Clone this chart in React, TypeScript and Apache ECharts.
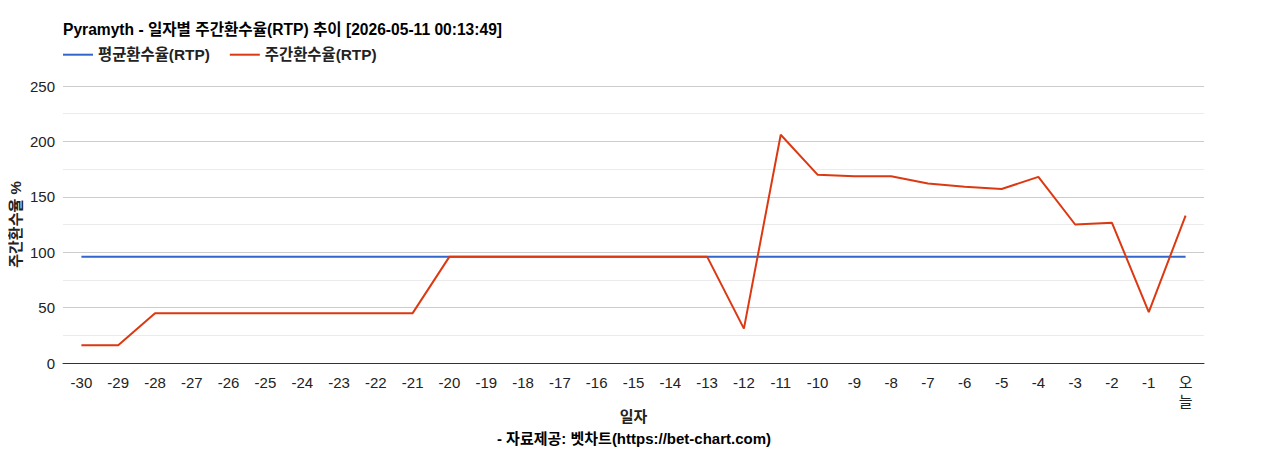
import React, { useEffect, useRef } from "react";
import * as echarts from "echarts";

const categories = [
  "-30", "-29", "-28", "-27", "-26", "-25", "-24", "-23", "-22", "-21",
  "-20", "-19", "-18", "-17", "-16", "-15", "-14", "-13", "-12", "-11",
  "-10", "-9", "-8", "-7", "-6", "-5", "-4", "-3", "-2", "-1", "오늘",
];
const averageRtp = [
  96, 96, 96, 96, 96, 96, 96, 96, 96, 96,
  96, 96, 96, 96, 96, 96, 96, 96, 96, 96,
  96, 96, 96, 96, 96, 96, 96, 96, 96, 96, 96,
];
const weeklyRtp = [
  16, 16, 45, 45, 45, 45, 45, 45, 45, 45,
  96, 96, 96, 96, 96, 96, 96, 96, 31, 206,
  170, 168.5, 168.5, 162, 159, 157, 168, 125, 126.5, 46, 133,
];
const yTicks = { min: 0, max: 250, interval: 50 };

const FONT = "Arial, 'Liberation Sans', 'Noto Sans CJK KR', sans-serif";

export default function App() {
  const ref = useRef<HTMLDivElement>(null);
  useEffect(() => {
    if (!ref.current) return;
    const chart = echarts.init(ref.current, null, { renderer: "svg" });
    chart.setOption({
      animation: false,
      textStyle: { fontFamily: FONT },
      title: [
        {
          text: "Pyramyth - 일자별 주간환수율(RTP) 추이 [2026-05-11 00:13:49]",
          left: 55,
          top: 14,
          padding: 0,
          textStyle: { fontSize: 15.6, fontWeight: "bold", color: "#000", fontFamily: FONT },
        },
        {
          text: "- 자료제공: 벳차트(https://bet-chart.com)",
          left: "center",
          top: 423,
          padding: 0,
          textStyle: { fontSize: 15, fontWeight: "bold", color: "#000", fontFamily: FONT },
        },
      ],
      legend: {
        left: 55,
        top: 39,
        padding: 0,
        itemWidth: 30,
        itemHeight: 10,
        itemGap: 20,
        icon: "path://M0,4 L30,4 L30,6 L0,6 Z",
        textStyle: { fontSize: 15.4, fontWeight: "bold", color: "#222", fontFamily: FONT },
        data: ["평균환수율(RTP)", "주간환수율(RTP)"],
      },
      grid: { left: 55, right: 56, top: 78, bottom: 87, containLabel: false, outerBoundsMode: "none" },
      xAxis: {
        type: "category",
        data: categories,
        boundaryGap: true,
        name: "일자",
        nameLocation: "middle",
        nameGap: 46,
        nameMoveOverlap: false,
        nameTextStyle: { fontSize: 15, fontWeight: "bold", color: "#222", fontFamily: FONT },
        axisLine: { lineStyle: { color: "#333", width: 1 } },
        axisTick: { show: false },
        axisLabel: {
          interval: 0,
          fontSize: 15,
          color: "#222",
          margin: 10,
          formatter: (v: string) => (v === "오늘" ? "오\n늘" : v),
          lineHeight: 19,
        },
      },
      yAxis: {
        type: "value",
        min: yTicks.min,
        max: yTicks.max,
        interval: yTicks.interval,
        name: "주간환수율 %",
        nameLocation: "middle",
        nameGap: 40,
        nameMoveOverlap: false,
        nameRotate: 90,
        nameTextStyle: { fontSize: 15, fontWeight: "bold", color: "#222", fontFamily: FONT },
        axisLine: { show: false },
        axisTick: { show: false },
        axisLabel: { fontSize: 15, color: "#222", margin: 8 },
        splitLine: { lineStyle: { color: "#ccc", width: 1 } },
        minorTick: { show: false, splitNumber: 2 },
        minorSplitLine: { show: true, lineStyle: { color: "#ebebeb", width: 1 } },
      },
      series: [
        {
          name: "평균환수율(RTP)",
          type: "line",
          data: averageRtp,
          symbol: "none",
          lineStyle: { color: "#3366cc", width: 2 },
          itemStyle: { color: "#3366cc" },
        },
        {
          name: "주간환수율(RTP)",
          type: "line",
          data: weeklyRtp,
          symbol: "none",
          lineStyle: { color: "#dc3912", width: 2 },
          itemStyle: { color: "#dc3912" },
        },
      ],
    });
    return () => chart.dispose();
  }, []);
  return <div ref={ref} style={{ width: 1252, height: 442 }} />;
}
